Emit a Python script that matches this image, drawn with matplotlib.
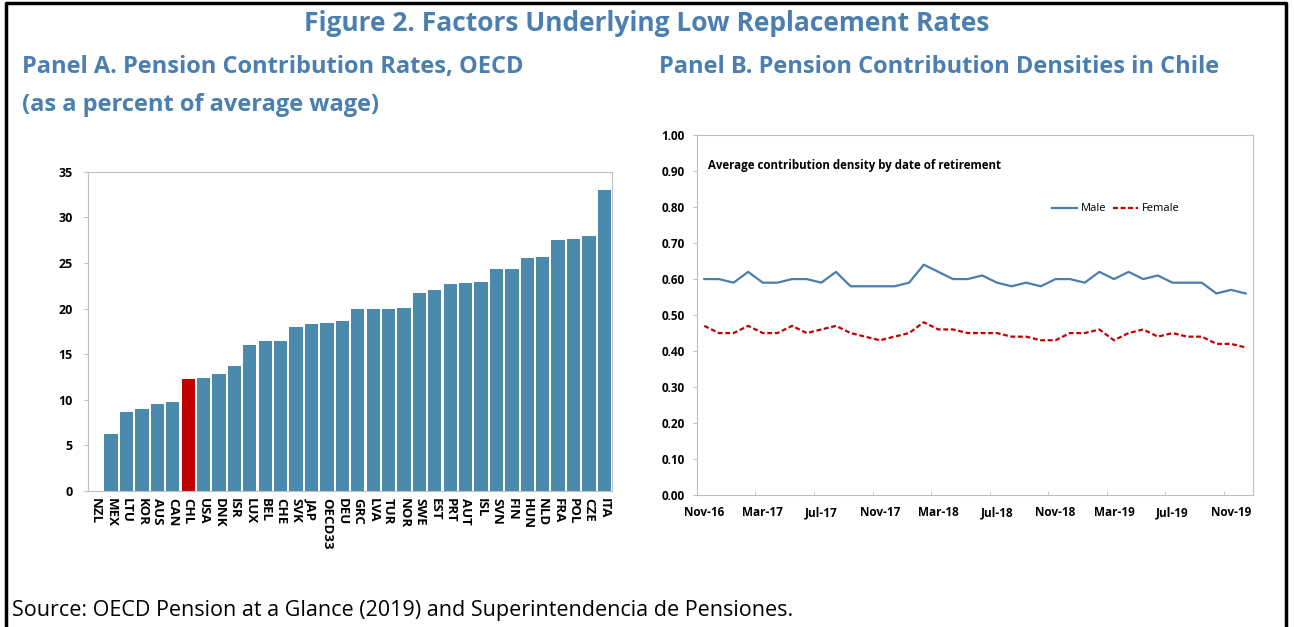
import matplotlib
matplotlib.use('Agg')
import matplotlib.pyplot as plt
from matplotlib.ticker import FixedLocator, FormatStrFormatter
from matplotlib.lines import Line2D

# Panel A: pension contribution rates (% of average wage)
countries = ['NZL', 'MEX', 'LTU', 'KOR', 'AUS', 'CAN', 'CHL', 'USA', 'DNK', 'ISR',
             'LUX', 'BEL', 'CHE', 'SVK', 'JAP', 'OECD33', 'DEU', 'GRC', 'LVA', 'TUR',
             'NOR', 'SWE', 'EST', 'PRT', 'AUT', 'ISL', 'SVN', 'FIN', 'HUN', 'NLD',
             'FRA', 'POL', 'CZE', 'ITA']
rates = [0.0, 6.3, 8.7, 9.0, 9.5, 9.8, 12.3, 12.4, 12.8, 13.7,
         16.0, 16.4, 16.5, 18.0, 18.3, 18.4, 18.6, 20.0, 20.0, 20.0,
         20.1, 21.7, 22.0, 22.7, 22.8, 22.9, 24.3, 24.4, 25.5, 25.7,
         27.5, 27.6, 28.0, 33.0]

# Panel B: average contribution density, monthly Nov-16 .. Dec-19
months = ['Nov-16', 'Dec-16', 'Jan-17', 'Feb-17', 'Mar-17', 'Apr-17', 'May-17', 'Jun-17',
          'Jul-17', 'Aug-17', 'Sep-17', 'Oct-17', 'Nov-17', 'Dec-17', 'Jan-18', 'Feb-18',
          'Mar-18', 'Apr-18', 'May-18', 'Jun-18', 'Jul-18', 'Aug-18', 'Sep-18', 'Oct-18',
          'Nov-18', 'Dec-18', 'Jan-19', 'Feb-19', 'Mar-19', 'Apr-19', 'May-19', 'Jun-19',
          'Jul-19', 'Aug-19', 'Sep-19', 'Oct-19', 'Nov-19', 'Dec-19']
male = [0.60, 0.60, 0.59, 0.62, 0.59, 0.59, 0.60, 0.60, 0.59, 0.62,
        0.58, 0.58, 0.58, 0.58, 0.59, 0.64, 0.62, 0.60, 0.60, 0.61,
        0.59, 0.58, 0.59, 0.58, 0.60, 0.60, 0.59, 0.62, 0.60, 0.62,
        0.60, 0.61, 0.59, 0.59, 0.59, 0.56, 0.57, 0.56]
female = [0.47, 0.45, 0.45, 0.47, 0.45, 0.45, 0.47, 0.45, 0.46, 0.47,
          0.45, 0.44, 0.43, 0.44, 0.45, 0.48, 0.46, 0.46, 0.45, 0.45,
          0.45, 0.44, 0.44, 0.43, 0.43, 0.45, 0.45, 0.46, 0.43, 0.45,
          0.46, 0.44, 0.45, 0.44, 0.44, 0.42, 0.42, 0.41]

title_blue = '#4A7FAF'
bar_blue = '#4A8AAD'
grey = '#BFBFBF'

plt.rcParams['font.family'] = ['Open Sans', 'DejaVu Sans']

fig = plt.figure(figsize=(12.94, 6.27), dpi=100)

# outer frame (left, top, right)
fig.add_artist(Line2D([0.005, 0.005, 0.9935, 0.9935], [0.0, 0.995, 0.995, 0.0],
                      transform=fig.transFigure, color='black', lw=2.5))

fig.text(0.5, 0.962, 'Figure 2. Factors Underlying Low Replacement Rates',
         ha='center', va='center', fontsize=19, fontweight='bold', color=title_blue)
fig.text(0.017, 0.893, 'Panel A. Pension Contribution Rates, OECD',
         ha='left', va='center', fontsize=17, fontweight='bold', color=title_blue)
fig.text(0.017, 0.832, '(as a percent of average wage)',
         ha='left', va='center', fontsize=17, fontweight='bold', color=title_blue)
fig.text(0.509, 0.893, 'Panel B. Pension Contribution Densities in Chile',
         ha='left', va='center', fontsize=17, fontweight='bold', color=title_blue)
fig.text(0.009, 0.027, 'Source: OECD Pension at a Glance (2019) and Superintendencia de Pensiones.',
         ha='left', va='center', fontsize=15.5, color='black')

# ---- Panel A ----
axA = fig.add_axes([0.068, 0.2169, 0.405, 0.509])
colors = ['#C00000' if c == 'CHL' else bar_blue for c in countries]
x = range(len(countries))
axA.bar(x, rates, width=0.86, color=colors, edgecolor='none')
axA.set_xlim(-0.5, len(countries) - 0.5)
axA.set_ylim(0, 35)
axA.set_yticks(range(0, 36, 5))
axA.set_xticks(list(x))
axA.set_xticklabels(countries, rotation=-90, fontsize=9.5, fontweight='bold')
axA.tick_params(axis='x', length=0, pad=5)
axA.tick_params(axis='y', length=3, color=grey, labelsize=9, pad=8)
for lab in axA.get_yticklabels():
    lab.set_fontweight('bold')
for s in axA.spines.values():
    s.set_color(grey)
    s.set_linewidth(0.8)

# ---- Panel B ----
axB = fig.add_axes([0.5386, 0.2105, 0.4297, 0.574])
idx = list(range(len(months)))
axB.plot(idx, male, color='#4A7EB0', lw=1.6, label='Male')
axB.plot(idx, female, color='#C00000', lw=1.6, ls=(0, (2.2, 1.2)), label='Female')
axB.set_xlim(-0.5, len(months) - 0.5)
axB.set_ylim(0, 1.0)
axB.set_yticks([i / 10 for i in range(11)])
axB.yaxis.set_major_formatter(FormatStrFormatter('%.2f'))
axB.set_xticks(idx[::4])
axB.set_xticklabels(months[::4], fontsize=8.5, fontweight='bold')
axB.xaxis.set_minor_locator(FixedLocator([i - 0.5 for i in idx[::4]]))
axB.tick_params(axis='x', which='major', length=0, pad=8)
axB.tick_params(axis='x', which='minor', length=3, direction='in', color=grey)
axB.tick_params(axis='y', length=3, color=grey, labelsize=8.5, pad=6)
for lab in axB.get_yticklabels():
    lab.set_fontweight('bold')
for s in axB.spines.values():
    s.set_color(grey)
    s.set_linewidth(0.8)
axB.text(0.02, 0.915, 'Average contribution density by date of retirement',
         transform=axB.transAxes, ha='left', va='center', fontsize=8.3, fontweight='bold')
axB.legend(loc='center left', bbox_to_anchor=(0.62, 0.795), ncol=2, frameon=False,
           fontsize=8, handlelength=2.3, columnspacing=0.6, handletextpad=0.3)

fig.savefig('out.png', dpi=100)
